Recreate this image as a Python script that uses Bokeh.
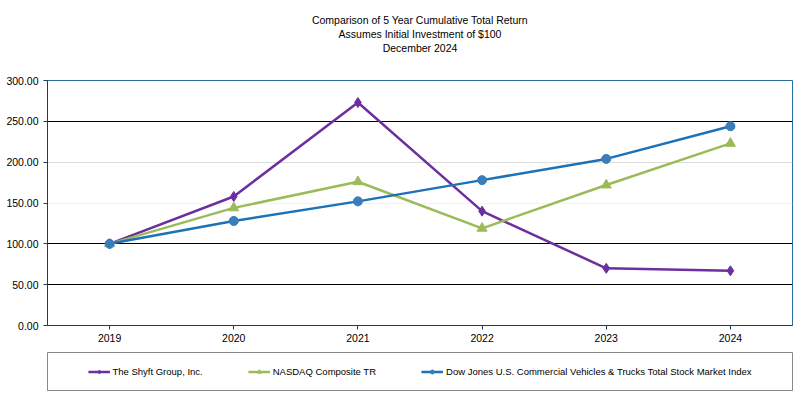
from bokeh.plotting import figure
from bokeh.layouts import column
from bokeh.models import (FactorRange, Range1d, Title, Legend, FixedTicker, Grid,
                          NumeralTickFormatter)
from bokeh.embed import file_html
from bokeh.resources import INLINE

years = ["2019", "2020", "2021", "2022", "2023", "2024"]
shyft = [100.0, 158.0, 273.0, 140.0, 70.0, 67.0]
nasdaq = [100.0, 144.0, 176.0, 119.0, 172.0, 223.0]
dowjones = [100.0, 128.0, 152.0, 178.0, 204.0, 244.0]
y_ticks = [0, 50, 100, 150, 200, 250, 300]

title_lines = ["Comparison of 5 Year Cumulative Total Return",
               "Assumes Initial Investment of $100",
               "December 2024"]
series_names = ["The Shyft Group, Inc.", "NASDAQ Composite TR",
                "Dow Jones U.S. Commercial Vehicles & Trucks Total Stock Market Index"]

FONT = "Liberation Sans"
W = 795
LEFT = 47
RIGHT = 3

p = figure(width=W, height=352, output_backend="svg", toolbar_location=None,
           x_range=FactorRange(*years), y_range=Range1d(0, 300),
           title=None, min_border_left=LEFT, min_border_right=RIGHT, min_border_top=80,
           min_border_bottom=27)

# blank spacer title between the title block and the plot frame
p.add_layout(Title(text=" ", align="center", text_font=FONT, text_font_size="22px",
                   standoff=0, offset=0), "above")
for t in reversed(title_lines):
    p.add_layout(Title(text=t, align="center", text_font=FONT,
                       text_font_size="10.5px", text_font_style="normal",
                       text_color="#000000", standoff=0, offset=0), "above")

p.outline_line_color = "#2a6f9b"
p.outline_line_width = 1

# axes
p.yaxis.ticker = FixedTicker(ticks=y_ticks)
p.yaxis.formatter = NumeralTickFormatter(format="0.00")
for ax in (p.xaxis[0], p.yaxis[0]):
    ax.axis_line_color = "#1f3a5f"
    ax.major_tick_line_color = "#1f3a5f"
    ax.minor_tick_line_color = None
    ax.major_label_text_font = FONT
    ax.major_label_text_font_size = "10.5px"
    ax.major_label_text_color = "#000000"
p.yaxis.major_tick_in = 0
p.yaxis.major_tick_out = 4
p.yaxis.major_label_standoff = 5
p.xaxis.major_tick_in = 0
p.xaxis.major_tick_out = 4
p.xaxis.major_label_standoff = 4

p.xgrid.visible = False
p.ygrid.ticker = FixedTicker(ticks=[50, 100, 250])
p.ygrid.grid_line_color = "#000000"
p.ygrid.grid_line_width = 1
g2 = Grid(dimension=1, ticker=FixedTicker(ticks=[200]), grid_line_color="#dcdcdc")
g3 = Grid(dimension=1, ticker=FixedTicker(ticks=[150]), grid_line_color="#f3f3f3")
p.add_layout(g2)
p.add_layout(g3)

colors = ["#6d2f9e", "#9bbb59", "#1b72b8"]
marker_colors = ["#6d2f9e", "#9bbb59", "#3a7db8"]
markers = ["diamond", "triangle", "circle"]
sizes = [10, 10, 9]
all_series = [shyft, nasdaq, dowjones]

for vals, c, mc, m, s in zip(all_series, colors, marker_colors, markers, sizes):
    p.line(years, vals, line_color=c, line_width=2.5)
    p.scatter(years, vals, marker=m, size=s, fill_color=mc, line_color=mc)

# legend box: a small figure whose frame is the box; series drawn out of view
lg = figure(width=W, height=39, output_backend="svg", toolbar_location=None,
            x_range=FactorRange(*years), y_range=Range1d(-2, -1),
            x_axis_type=None, y_axis_type=None, title=None,
            min_border_left=LEFT, min_border_right=RIGHT, min_border_top=0,
            min_border_bottom=1)
lg.grid.visible = False
lg.outline_line_color = "#888888"
items = []
for name, vals, c, mc, m in zip(series_names, all_series, colors, marker_colors, markers):
    r1 = lg.line(years, vals, line_color=c, line_width=2.5)
    r2 = lg.scatter(years, vals, marker=m, size=6, fill_color=mc, line_color=mc)
    items.append((name, [r1, r2]))
legend = Legend(items=items, orientation="horizontal", location="center",
                label_text_font=FONT, label_text_font_size="9.5px",
                label_text_color="#000000", glyph_width=22, glyph_height=10,
                label_standoff=3, spacing=45, padding=0, margin=0,
                border_line_color=None, background_fill_color=None,
                label_height=10)
lg.add_layout(legend, "center")

layout = column(p, lg, spacing=0)
open("out.html", "w").write(file_html(layout, INLINE))
